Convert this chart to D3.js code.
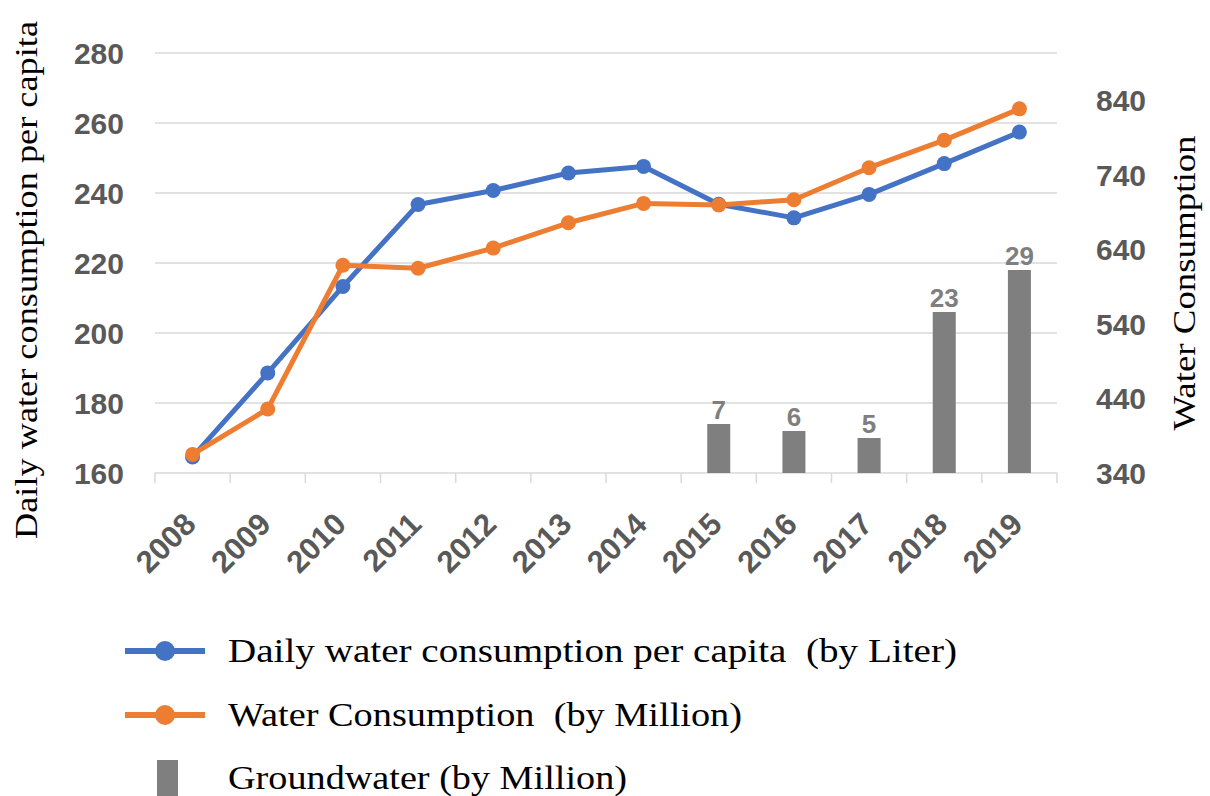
<!DOCTYPE html>
<meta charset="utf-8">
<style>
body { margin: 0; background: #fff; }
.grid line { stroke: #d9d9d9; stroke-width: 1.5px; }
.tick-lbl { font-family: "Liberation Sans", Arial, sans-serif; font-weight: bold; fill: #595959; }
.serif { font-family: "Liberation Serif", "DejaVu Serif", serif; fill: #000; white-space: pre; }
</style>
<svg width="1210" height="796"></svg>
<script src="https://cdnjs.cloudflare.com/ajax/libs/d3/7.8.5/d3.min.js"></script>
<script>

var years = ["2008","2009","2010","2011","2012","2013","2014","2015","2016","2017","2018","2019"];
var perCapita = [164.6, 188.6, 213.3, 236.7, 240.7, 245.7, 247.6, 236.8, 232.9, 239.6, 248.4, 257.4];
var consumption = [365, 426, 619, 615, 642, 676, 702, 700, 707, 750, 787, 829];
var groundwater = [null, null, null, null, null, null, null, 7, 6, 5, 23, 29];
var leftTicks = [160, 180, 200, 220, 240, 260, 280];
var rightTicks = [340, 440, 540, 640, 740, 840];

var svg = d3.select("svg");

var plot = {left: 155, right: 1057, top: 53, bottom: 473};

var x = d3.scaleBand().domain(years).range([plot.left, plot.right]);
var yL = d3.scaleLinear().domain([160, 280]).range([plot.bottom, plot.top]);
// secondary axis: labels are spaced a bit wider than the gridlines
var yR = d3.scaleLinear().domain([340, 904]).range([plot.bottom, plot.top]);
var yB = d3.scaleLinear().domain([0, 60]).range([plot.bottom, plot.top]);

// gridlines
svg.append("g").attr("class", "grid")
    .selectAll("line")
    .data(leftTicks)
    .enter().append("line")
    .attr("x1", plot.left).attr("x2", plot.right)
    .attr("y1", function(d) { return yL(d); })
    .attr("y2", function(d) { return yL(d); });

// category tick marks on the bottom
svg.append("g").attr("class", "grid")
    .selectAll("line")
    .data(years.concat(["end"]))
    .enter().append("line")
    .attr("x1", function(d, i) { return plot.left + i * x.step(); })
    .attr("x2", function(d, i) { return plot.left + i * x.step(); })
    .attr("y1", plot.bottom).attr("y2", plot.bottom + 10);

// left axis labels
svg.append("g").selectAll("text")
    .data(leftTicks)
    .enter().append("text")
    .attr("class", "tick-lbl")
    .attr("x", 124)
    .attr("y", function(d) { return yL(d); })
    .attr("dy", "0.36em")
    .attr("text-anchor", "end")
    .style("font-size", "30px")
    .text(function(d) { return d; });

// right axis labels
svg.append("g").selectAll("text")
    .data(rightTicks)
    .enter().append("text")
    .attr("class", "tick-lbl")
    .attr("x", 1096)
    .attr("y", function(d) { return yR(d); })
    .attr("dy", "0.36em")
    .attr("text-anchor", "start")
    .style("font-size", "30px")
    .text(function(d) { return d; });

// year labels
svg.append("g").selectAll("text")
    .data(years)
    .enter().append("text")
    .attr("class", "tick-lbl")
    .attr("transform", function(d) {
        return "translate(" + (x(d) + x.bandwidth() / 2 + 5) + "," + 526 + ") rotate(-45)";
    })
    .attr("text-anchor", "end")
    .style("font-size", "31px")
    .text(function(d) { return d; });

// bars
var barW = 23;
var bars = years.map(function(y, i) { return {year: y, v: groundwater[i]}; })
    .filter(function(d) { return d.v != null; });

svg.append("g").selectAll("rect")
    .data(bars)
    .enter().append("rect")
    .attr("x", function(d) { return x(d.year) + x.bandwidth() / 2 - barW / 2; })
    .attr("y", function(d) { return yB(d.v); })
    .attr("width", barW)
    .attr("height", function(d) { return plot.bottom - yB(d.v); })
    .attr("fill", "#7f7f7f");

svg.append("g").selectAll("text")
    .data(bars)
    .enter().append("text")
    .attr("class", "tick-lbl")
    .attr("x", function(d) { return x(d.year) + x.bandwidth() / 2; })
    .attr("y", function(d) { return yB(d.v) - 5; })
    .attr("text-anchor", "middle")
    .style("fill", "#7f7f7f")
    .style("font-size", "26px")
    .text(function(d) { return d.v; });

// lines
function drawSeries(vals, scale, color) {
    var pts = years.map(function(y, i) { return [x(y) + x.bandwidth() / 2, scale(vals[i])]; });
    svg.append("path")
        .attr("d", d3.line()(pts))
        .attr("fill", "none")
        .attr("stroke", color)
        .attr("stroke-width", 5)
        .attr("stroke-linejoin", "round");
    svg.append("g").selectAll("circle")
        .data(pts)
        .enter().append("circle")
        .attr("cx", function(d) { return d[0]; })
        .attr("cy", function(d) { return d[1]; })
        .attr("r", 7.5)
        .attr("fill", color);
}
drawSeries(perCapita, yL, "#4472c4");
drawSeries(consumption, yR, "#ed7d31");

// axis titles
svg.append("text")
    .attr("class", "serif")
    .attr("transform", "translate(37,280) rotate(-90)")
    .attr("text-anchor", "middle")
    .attr("textLength", 518)
    .attr("lengthAdjust", "spacingAndGlyphs")
    .style("font-size", "32px")
    .text("Daily water consumption per capita");

svg.append("text")
    .attr("class", "serif")
    .attr("transform", "translate(1195,283) rotate(-90)")
    .attr("text-anchor", "middle")
    .attr("textLength", 295)
    .attr("lengthAdjust", "spacingAndGlyphs")
    .style("font-size", "32px")
    .text("Water Consumption");

// legend
var legend = [
    {label: "Daily water consumption per capita  (by Liter)", color: "#4472c4", type: "line", y: 651, len: 729},
    {label: "Water Consumption  (by Million)", color: "#ed7d31", type: "line", y: 715, len: 514},
    {label: "Groundwater (by Million)", color: "#7f7f7f", type: "bar", y: 778, len: 399}
];

var lg = svg.append("g").selectAll("g")
    .data(legend)
    .enter().append("g");

lg.filter(function(d) { return d.type == "line"; })
    .append("line")
    .attr("x1", 125).attr("x2", 205)
    .attr("y1", function(d) { return d.y; })
    .attr("y2", function(d) { return d.y; })
    .attr("stroke", function(d) { return d.color; })
    .attr("stroke-width", 6);
lg.filter(function(d) { return d.type == "line"; })
    .append("circle")
    .attr("cx", 165)
    .attr("cy", function(d) { return d.y; })
    .attr("r", 10)
    .attr("fill", function(d) { return d.color; });
lg.filter(function(d) { return d.type == "bar"; })
    .append("rect")
    .attr("x", 157).attr("width", 21)
    .attr("y", function(d) { return d.y - 18; })
    .attr("height", 36)
    .attr("fill", function(d) { return d.color; });

lg.append("text")
    .attr("class", "serif")
    .attr("x", 228)
    .attr("y", function(d) { return d.y + 11; })
    .attr("textLength", function(d) { return d.len; })
    .attr("lengthAdjust", "spacingAndGlyphs")
    .style("font-size", "34px")
    .text(function(d) { return d.label; });

</script>
